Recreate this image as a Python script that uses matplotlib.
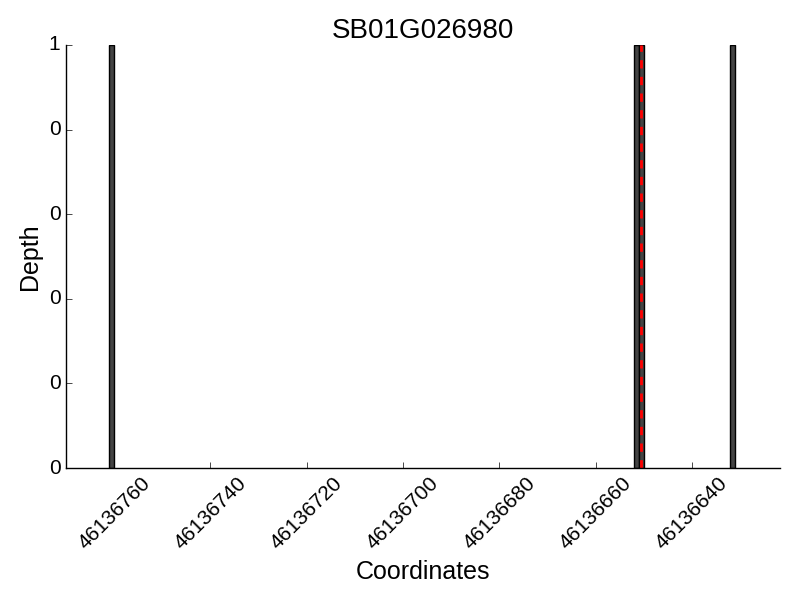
import matplotlib
matplotlib.use('Agg')
import matplotlib.pyplot as plt
from matplotlib.ticker import FormatStrFormatter

# gene region and read depth per coordinate
gene = "SB01G026980"
positions = [46136760, 46136651, 46136650, 46136631]
depth = [1, 1, 1, 1]
marker_pos = 46136650.5
x_limits = (46136770, 46136621.7)
x_ticks = [46136760, 46136740, 46136720, 46136700, 46136680, 46136660, 46136640]
y_ticks = [0, 0.2, 0.4, 0.6, 0.8, 1.0]

plt.style.use('classic')
plt.rcParams['font.family'] = ['Liberation Sans', 'DejaVu Sans']

fig, ax = plt.subplots(figsize=(8, 6), dpi=100)
fig.patch.set_facecolor('white')
fig.subplots_adjust(left=0.0825, right=0.975, top=0.925, bottom=0.22)

ax.bar(positions, depth, width=1, align='edge', color='#444444', edgecolor='black', linewidth=1)
ax.axvline(marker_pos, color='red', linestyle='--', linewidth=2)

ax.set_xlim(*x_limits)
ax.set_ylim(0, 1)
ax.set_xticks(x_ticks)
ax.set_yticks(y_ticks)
ax.get_xaxis().get_major_formatter().set_useOffset(False)
ax.xaxis.set_major_formatter(FormatStrFormatter('%d'))
ax.yaxis.set_major_formatter(FormatStrFormatter('%d'))
ax.spines['top'].set_visible(False)
ax.spines['right'].set_visible(False)
ax.xaxis.set_ticks_position('bottom')
ax.yaxis.set_ticks_position('left')
plt.setp(ax.get_xticklabels(), rotation=45, fontsize=15)
plt.setp(ax.get_yticklabels(), fontsize=15)

ax.set_title(gene, fontsize=20)
ax.set_xlabel("Coordinates", fontsize=18)
ax.set_ylabel("Depth", fontsize=18)

fig.savefig('out.png', dpi=100, facecolor='white')
